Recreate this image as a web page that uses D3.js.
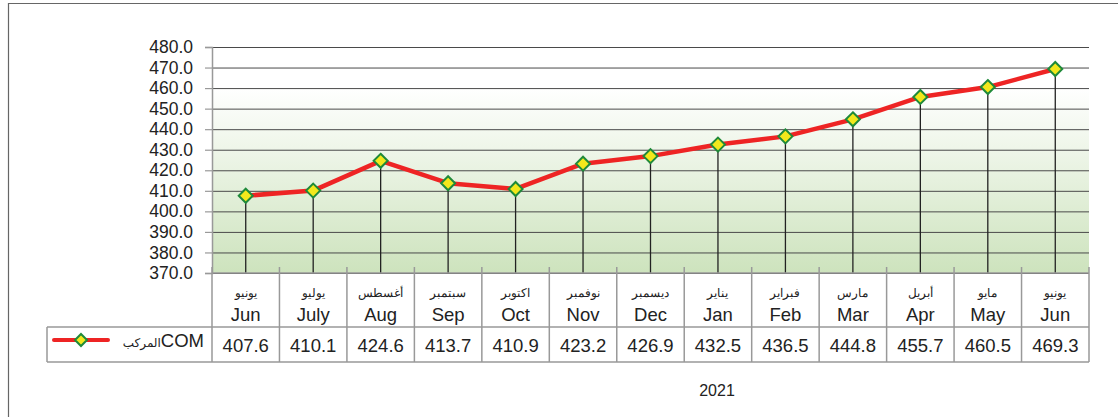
<!DOCTYPE html>
<html>
<head>
<meta charset="utf-8">
<script src="https://cdn.jsdelivr.net/npm/d3@7"></script>
<style>
  body { margin: 0; background: #fff; }
  text { font-family: "Liberation Sans", Arial, sans-serif; fill: #222; }
</style>
</head>
<body>
<svg id="chart" width="1118" height="417"></svg>
<script>
// months, english + arabic, and the COM values
var monthsEn = ["Jun", "July", "Aug", "Sep", "Oct", "Nov", "Dec", "Jan", "Feb", "Mar", "Apr", "May", "Jun"];
var monthsAr = ["يونيو", "يوليو", "أغسطس", "سبتمبر", "اكتوبر", "نوفمبر", "ديسمبر", "يناير", "فبراير", "مارس", "أبريل", "مايو", "يونيو"];
var comValues = [407.6, 410.1, 424.6, 413.7, 410.9, 423.2, 426.9, 432.5, 436.5, 444.8, 455.7, 460.5, 469.3];
var yTicks = [370, 380, 390, 400, 410, 420, 430, 440, 450, 460, 470, 480];
var seriesName = "COM", seriesNameAr = "المركب", yearLabel = "2021";

var svg = d3.select("#chart");
var margin = {left: 212, right: 1089, top: 47, bottom: 273};
var rowMonth = 327, rowValue = 362, legendLeft = 47;

// scales
var x = d3.scaleBand().domain(d3.range(monthsEn.length)).range([margin.left, margin.right]);
var y = d3.scaleLinear().domain([370, 480]).range([margin.bottom, margin.top]);

// outer frame
svg.append("path")
   .attr("d", "M8.5,420 V3.5 H1125")
   .attr("fill", "none").attr("stroke", "#666").attr("stroke-width", 1.2);

// background gradient of plot
var grad = svg.append("defs").append("linearGradient")
   .attr("id", "bg").attr("x1", 0).attr("y1", 0).attr("x2", 0).attr("y2", 1);
grad.append("stop").attr("offset", "0%").attr("stop-color", "#ffffff");
grad.append("stop").attr("offset", "18%").attr("stop-color", "#ffffff");
grad.append("stop").attr("offset", "100%").attr("stop-color", "#cde3bd");

svg.append("rect")
   .attr("x", margin.left).attr("y", margin.top)
   .attr("width", margin.right - margin.left).attr("height", margin.bottom - margin.top)
   .attr("fill", "url(#bg)");

// horizontal gridlines
svg.append("g")
   .attr("transform", "translate(" + margin.left + ",0)")
   .call(d3.axisLeft(y).tickValues(yTicks).tickSize(-(margin.right - margin.left)).tickFormat(""))
   .call(function(g) {
     g.select(".domain").remove();
     g.selectAll("line").attr("stroke", "#4a4a4a").attr("stroke-width", 1);
   });

// y axis
svg.append("g")
   .attr("transform", "translate(" + margin.left + ",0)")
   .call(d3.axisLeft(y).tickValues(yTicks).tickSize(7).tickPadding(12).tickFormat(d3.format(".1f")))
   .call(function(g) {
     g.select(".domain").attr("stroke", "#999").attr("stroke-width", 1.5);
     g.selectAll("line").attr("stroke", "#999").attr("stroke-width", 1.2);
     g.selectAll("text").attr("font-size", 17.5).attr("fill", "#222")
      .attr("font-family", "Liberation Sans, Arial, sans-serif");
   });

// drop lines from each point
svg.append("g").selectAll("line")
   .data(comValues).enter().append("line")
   .attr("x1", function(d, i) { return x(i) + x.bandwidth() / 2; })
   .attr("x2", function(d, i) { return x(i) + x.bandwidth() / 2; })
   .attr("y1", function(d) { return y(d); })
   .attr("y2", margin.bottom)
   .attr("stroke", "#222").attr("stroke-width", 1.3);

// data table grid
var tbl = svg.append("g").attr("fill", "none").attr("stroke", "#999").attr("stroke-width", 1.5);
var bounds = d3.range(monthsEn.length + 1).map(function(i) {
  return i < monthsEn.length ? x(i) : margin.right;
});
tbl.selectAll("line.v").data(bounds).enter().append("line")
   .attr("x1", function(d) { return d; }).attr("x2", function(d) { return d; })
   .attr("y1", margin.bottom - 6).attr("y2", rowValue);
tbl.append("line").attr("x1", margin.left).attr("x2", margin.right)
   .attr("y1", margin.bottom).attr("y2", margin.bottom);
tbl.append("line").attr("x1", legendLeft).attr("x2", margin.right)
   .attr("y1", rowMonth).attr("y2", rowMonth);
tbl.append("line").attr("x1", legendLeft).attr("x2", margin.right)
   .attr("y1", rowValue).attr("y2", rowValue);
tbl.append("line").attr("x1", legendLeft).attr("x2", legendLeft)
   .attr("y1", rowMonth).attr("y2", rowValue);

// month labels
var cells = svg.append("g").selectAll("g")
   .data(monthsEn).enter().append("g")
   .attr("transform", function(d, i) { return "translate(" + (x(i) + x.bandwidth() / 2) + ",0)"; });
cells.append("text")
   .attr("y", 297).attr("text-anchor", "middle").attr("font-size", 12)
   .attr("font-family", "DejaVu Sans, sans-serif")
   .text(function(d, i) { return monthsAr[i]; });
cells.append("text")
   .attr("y", 321).attr("text-anchor", "middle").attr("font-size", 18.5)
   .text(function(d) { return d; });
cells.append("text")
   .attr("y", 352).attr("text-anchor", "middle").attr("font-size", 18.5)
   .text(function(d, i) { return comValues[i].toFixed(1); });

// legend key
var leg = svg.append("g");
leg.append("line").attr("x1", 54).attr("x2", 108).attr("y1", 340).attr("y2", 340)
   .attr("stroke", "#ee2424").attr("stroke-width", 4).attr("stroke-linecap", "round");
leg.append("path").attr("transform", "translate(81,340)")
   .attr("d", "M0,-6 L6,0 L0,6 L-6,0 Z")
   .attr("fill", "#f2e81c").attr("stroke", "#1f8a3a").attr("stroke-width", 2);
var legText = leg.append("text").attr("x", 204).attr("y", 347).attr("text-anchor", "end");
legText.append("tspan").attr("font-size", 12).attr("font-family", "DejaVu Sans, sans-serif")
   .text(seriesNameAr);
legText.append("tspan").attr("font-size", 18.5).text(seriesName);

// the line
var line = d3.line()
   .x(function(d, i) { return x(i) + x.bandwidth() / 2; })
   .y(function(d) { return y(d); });
svg.append("path").datum(comValues)
   .attr("d", line)
   .attr("fill", "none").attr("stroke", "#ee2424").attr("stroke-width", 4.5)
   .attr("stroke-linejoin", "round");

// diamond markers
svg.append("g").selectAll("path")
   .data(comValues).enter().append("path")
   .attr("transform", function(d, i) { return "translate(" + (x(i) + x.bandwidth() / 2) + "," + y(d) + ")"; })
   .attr("d", "M0,-7 L7,0 L0,7 L-7,0 Z")
   .attr("fill", "#f2e81c").attr("stroke", "#1f8a3a").attr("stroke-width", 2);

// year label
svg.append("text").attr("x", 717).attr("y", 396).attr("text-anchor", "middle")
   .attr("font-size", 16).text(yearLabel);
</script>
</body>
</html>
